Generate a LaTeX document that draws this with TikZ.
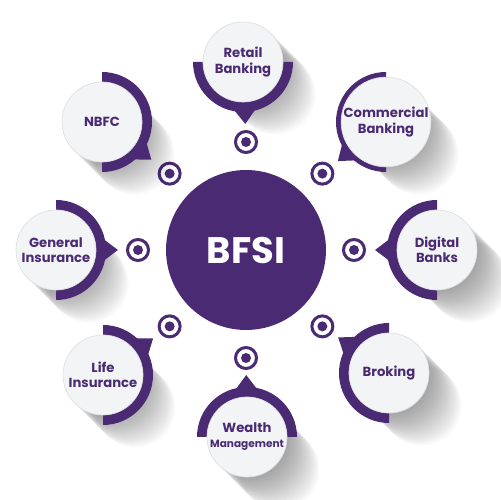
\documentclass[tikz,border=0pt]{standalone}
\usepackage{fontspec}
\setmainfont{Poppins}
\usetikzlibrary{calc}
\definecolor{bfsipurple}{RGB}{74, 43, 115}
\definecolor{bubblegray}{RGB}{243, 244, 246}
\tikzset{
	bubble/.style={circle, fill=bubblegray, draw=black!12, line width=0.4pt, minimum size=1.6cm, inner sep=0pt, align=center, text=bfsipurple, font=\bfseries\fontsize{7.5}{8.6}\selectfont},
	target/.style={circle, draw=bfsipurple, line width=0.06cm, minimum size=0.42cm, inner sep=0pt},
	hub/.style={circle, fill=bfsipurple, minimum size=3.2cm, text=white, font=\bfseries\fontsize{21}{24}\selectfont}
}
\begin{document}
\begin{tikzpicture}[x=0.02cm, y=0.02cm]
	\useasboundingbox (0, 0) rectangle (500, 500);
	\node[hub] (bfsi) at (246, 250) {BFSI};
	\foreach \n/\x/\y/\d/\a/\t in {
		retail/243/438/270/90/{Retail\\Banking},
		commercial/386/378/180/45/{Commercial\\Banking},
		digital/437/250/180/0/{Digital\\Banks},
		broking/389/127/180/-45/{Broking},
		wealth/247/63/90/-90/{Wealth\\{\fontsize{6}{7}\selectfont Management}},
		life/103/125/0/-135/{Life\\Insurance},
		general/56/250/0/180/{General\\Insurance},
		nbfc/102/378/0/135/{NBFC}}{
		\coordinate (\n) at (\x, \y);
		\node[target] (\n m) at ($(bfsi)+(\a:108)$) {};
		\fill[bfsipurple] (\n m) circle [radius=5];
		\foreach \k in {1, ..., 18}
			\fill[black, opacity=0.022] (\x + 1.8*\k, \y - 1.8*\k) circle [radius=40];
		\fill[bfsipurple] (\n) ++({\d - 90}:50) arc [start angle=\d - 90, delta angle=180, radius=50] -- cycle;
		\fill[bfsipurple] ($(\n)!0.84cm!(\n m)!0.3cm!90:(\n m)$) -- ($(\n)!1.24cm!(\n m)$) -- ($(\n)!0.84cm!(\n m)!0.3cm!-90:(\n m)$) -- cycle;
		\node[bubble] (\n t) at (\n) {\t};
	}
\end{tikzpicture}
\end{document}
